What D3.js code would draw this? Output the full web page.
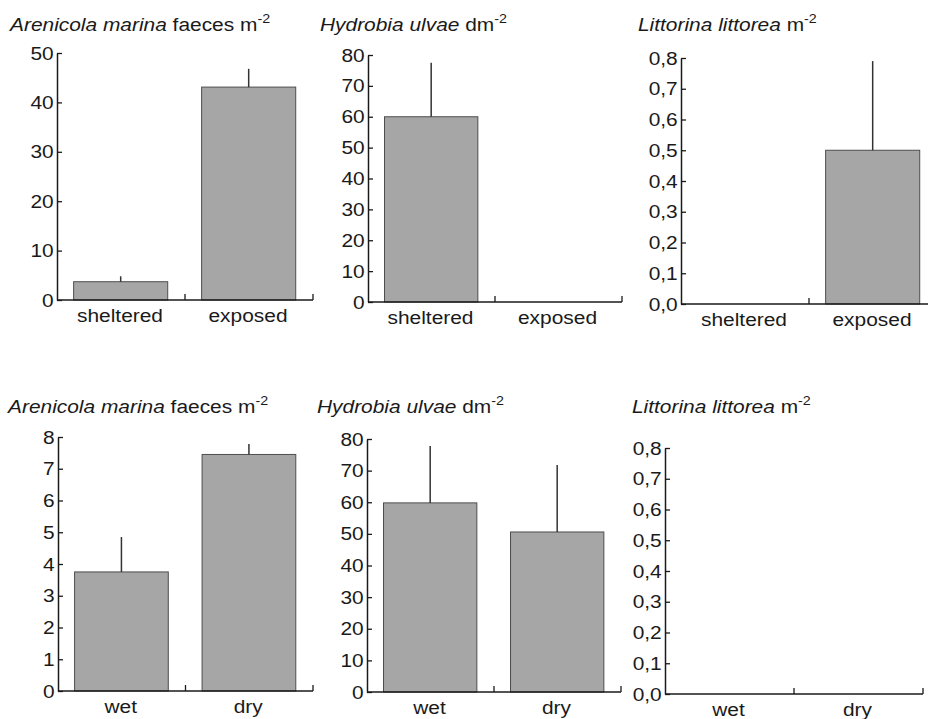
<!DOCTYPE html>
<html>
<head>
<meta charset="utf-8">
<script src="https://cdn.jsdelivr.net/npm/d3@7"></script>
<style>
  body { margin: 0; background: #fff; }
  svg { display: block; }
  text { font-family: "Liberation Sans", Arial, sans-serif; fill: #1a1a1a; }
</style>
</head>
<body>
<svg id="chart" width="928" height="719"></svg>
<script>
// categories
var exposureCats = ["sheltered", "exposed"];
var moistureCats = ["wet", "dry"];

// means (bar heights)
var arenicolaExposure = [3.7, 43.1];
var hydrobiaExposure = [60, 0];
var littorinaExposure = [0, 0.5];
var arenicolaMoisture = [3.75, 7.45];
var hydrobiaMoisture = [59.8, 50.6];
var littorinaMoisture = [0, 0];

// error bar tops
var arenicolaExposureErr = [4.8, 46.8];
var hydrobiaExposureErr = [77.5, 0];
var littorinaExposureErr = [0, 0.79];
var arenicolaMoistureErr = [4.85, 7.78];
var hydrobiaMoistureErr = [77.8, 71.8];
var littorinaMoistureErr = [0, 0];

// y tick values
var arenicolaTicksTop = [0, 10, 20, 30, 40, 50];
var hydrobiaTicks = [0, 10, 20, 30, 40, 50, 60, 70, 80];
var littorinaTicks = [0, 0.1, 0.2, 0.3, 0.4, 0.5, 0.6, 0.7, 0.8];
var arenicolaTicksBottom = [0, 1, 2, 3, 4, 5, 6, 7, 8];

var commaFmt = function(d) { return d3.format(".1f")(d).replace(".", ","); };
var intFmt = d3.format("d");

var panels = [
	{ species: "Arenicola marina", unit: " faeces m", cats: exposureCats, values: arenicolaExposure, errs: arenicolaExposureErr, ticks: arenicolaTicksTop, fmt: intFmt,
	  x0: 57, x1: 313, yTop: 53, y0: 300, titleX: 10, titleY: 31 },
	{ species: "Hydrobia ulvae", unit: " dm", cats: exposureCats, values: hydrobiaExposure, errs: hydrobiaExposureErr, ticks: hydrobiaTicks, fmt: intFmt,
	  x0: 368, x1: 622, yTop: 55, y0: 302, titleX: 320, titleY: 31 },
	{ species: "Littorina littorea", unit: " m", cats: exposureCats, values: littorinaExposure, errs: littorinaExposureErr, ticks: littorinaTicks, fmt: commaFmt,
	  x0: 681, x1: 937, yTop: 58, y0: 304, titleX: 638, titleY: 31 },
	{ species: "Arenicola marina", unit: " faeces m", cats: moistureCats, values: arenicolaMoisture, errs: arenicolaMoistureErr, ticks: arenicolaTicksBottom, fmt: intFmt,
	  x0: 58, x1: 313, yTop: 437, y0: 691, titleX: 8, titleY: 413 },
	{ species: "Hydrobia ulvae", unit: " dm", cats: moistureCats, values: hydrobiaMoisture, errs: hydrobiaMoistureErr, ticks: hydrobiaTicks, fmt: intFmt,
	  x0: 367, x1: 621, yTop: 439, y0: 692, titleX: 317, titleY: 413 },
	{ species: "Littorina littorea", unit: " m", cats: moistureCats, values: littorinaMoisture, errs: littorinaMoistureErr, ticks: littorinaTicks, fmt: commaFmt,
	  x0: 665, x1: 923, yTop: 448, y0: 694, titleX: 632, titleY: 413 }
];

var BAR_FILL = "#a6a6a6";
var BAR_STROKE = "#4d4d4d";
var AXIS_COLOR = "#1a1a1a";
var FONT_SIZE = "19px";
var STRETCH = "scale(1.1,1)";   // scanned type is a bit wider than Liberation Sans

var svg = d3.select("#chart");

panels.forEach(function(p) {
	var g = svg.append("g");

	var y = d3.scaleLinear()
		.domain([0, d3.max(p.ticks)])
		.range([p.y0, p.yTop]);

	var x = d3.scaleBand()
		.domain(p.cats)
		.range([p.x0, p.x1])
		.padding(0);

	var bw = x.bandwidth();

	// bars
	g.selectAll("rect.bar")
		.data(p.cats)
		.enter().append("rect")
		.attr("class", "bar")
		.filter(function(c, i) { return p.values[i] > 0; })
		.attr("x", function(c) { return x(c) + bw * 0.13; })
		.attr("width", bw * 0.735)
		.attr("y", function(c) { return y(p.values[p.cats.indexOf(c)]); })
		.attr("height", function(c) { return p.y0 - y(p.values[p.cats.indexOf(c)]); })
		.attr("fill", BAR_FILL)
		.attr("stroke", BAR_STROKE)
		.attr("stroke-width", 1);

	// error bars (upper only)
	p.cats.forEach(function(c, i) {
		if(p.errs[i] <= p.values[i]) { return; }
		var cx = x(c) + bw * 0.13 + bw * 0.735 / 2;
		g.append("line")
			.attr("x1", cx).attr("x2", cx)
			.attr("y1", y(p.values[i])).attr("y2", y(p.errs[i]))
			.attr("stroke", "#333")
			.attr("stroke-width", 1.5);
	});

	// y axis, ticks pointing inwards
	var yAxis = d3.axisLeft(y)
		.tickValues(p.ticks)
		.tickFormat(p.fmt)
		.tickSize(-5)
		.tickSizeOuter(0)
		.tickPadding(3);

	var ya = g.append("g")
		.attr("transform", "translate(" + p.x0 + ",0)")
		.call(yAxis);
	ya.select(".domain").attr("stroke", AXIS_COLOR).attr("stroke-width", 1.5);
	ya.selectAll(".tick line").attr("stroke", AXIS_COLOR).attr("stroke-width", 1.3);
	ya.selectAll(".tick text")
		.attr("font-size", FONT_SIZE)
		.attr("font-family", null)
		.attr("fill", "#1a1a1a")
		.attr("transform", STRETCH);

	// x axis line with upward ticks at band boundaries
	g.append("line")
		.attr("x1", p.x0).attr("x2", p.x1)
		.attr("y1", p.y0).attr("y2", p.y0)
		.attr("stroke", AXIS_COLOR)
		.attr("stroke-width", 1.5);

	g.selectAll("line.xtick")
		.data(p.cats)
		.enter().append("line")
		.attr("class", "xtick")
		.attr("x1", function(c) { return x(c) + bw; })
		.attr("x2", function(c) { return x(c) + bw; })
		.attr("y1", p.y0)
		.attr("y2", p.y0 - 6)
		.attr("stroke", AXIS_COLOR)
		.attr("stroke-width", 1.3);

	g.selectAll("text.xlabel")
		.data(p.cats)
		.enter().append("text")
		.attr("class", "xlabel")
		.attr("transform", function(c) {
			return "translate(" + (x(c) + bw / 2 - 1) + "," + (p.y0 + 22) + ") " + STRETCH;
		})
		.attr("text-anchor", "middle")
		.attr("font-size", FONT_SIZE)
		.text(function(c) { return c; });

	// panel title
	var title = g.append("text")
		.attr("transform", "translate(" + p.titleX + "," + p.titleY + ") " + STRETCH)
		.attr("font-size", FONT_SIZE);
	title.append("tspan")
		.attr("font-style", "italic")
		.text(p.species);
	title.append("tspan")
		.text(p.unit);
	title.append("tspan")
		.attr("font-size", "13px")
		.attr("dy", -8)
		.text("-2");
});
</script>
</body>
</html>
